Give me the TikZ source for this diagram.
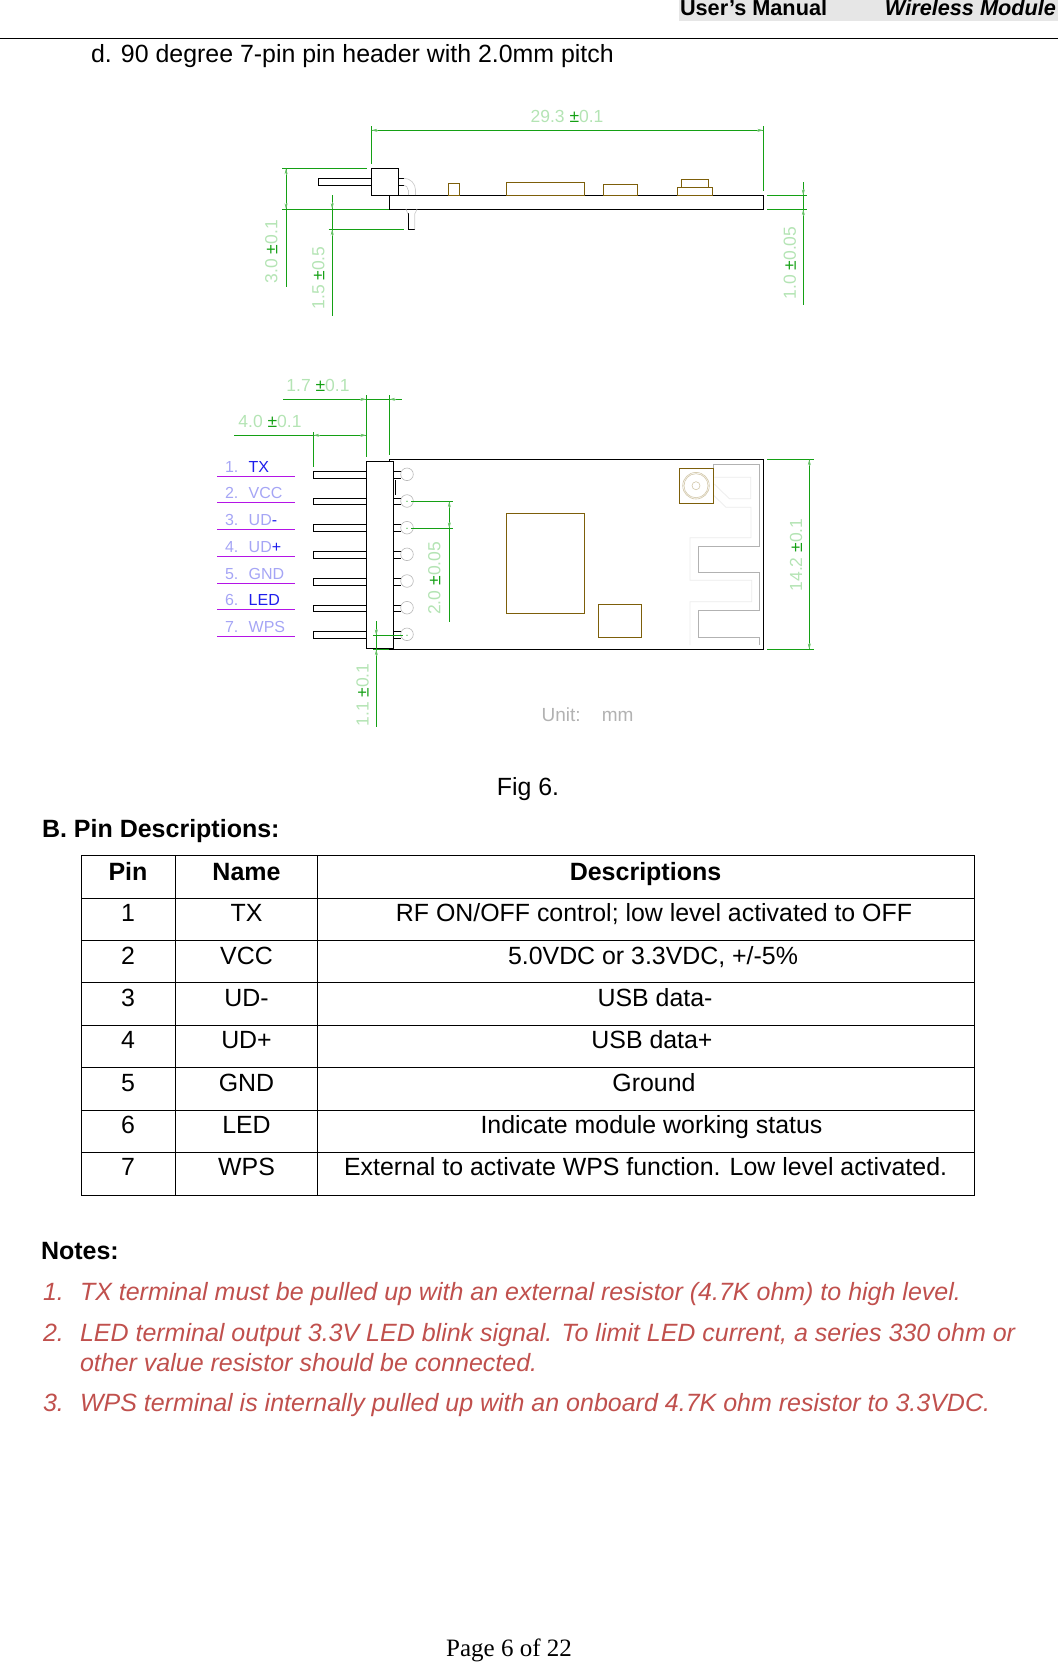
\documentclass[tikz,border=0pt]{standalone}
\usepackage{fontspec}
\usetikzlibrary{arrows.meta}
\setmainfont{Liberation Sans}
\newfontfamily\serifpage{Liberation Serif}
\definecolor{dimgreen}{RGB}{20,160,20}
\definecolor{dimtext}{RGB}{180,228,180}
\definecolor{pcbbrown}{RGB}{125,95,10}
\definecolor{lblblue}{RGB}{165,165,245}
\definecolor{lbldark}{RGB}{30,30,235}
\definecolor{lblpurple}{RGB}{180,20,230}
\definecolor{notered}{RGB}{192,80,77}
\definecolor{band}{RGB}{230,230,230}
\newcommand{\pmg}{\textcolor{dimgreen}{±}}
\newcommand{\lbd}[1]{\textcolor{lbldark}{#1}}
\tikzset{
 x=1pt,y=-1pt,
 every node/.style={inner sep=0pt,outer sep=0pt},
 outline/.style={draw=black,line width=0.9pt,fill=white},
 part/.style={draw=pcbbrown,line width=0.9pt},
 dimline/.style={draw=dimgreen,line width=0.8pt},
 tinyarrow/.style={-{Stealth[length=6pt,width=3pt]},draw=dimgreen!65,line width=.5pt},
 dimlabel/.style={text=dimtext,font=\fontsize{17.5}{18}\selectfont},
 pinlabel/.style={text=lblblue,anchor=base west,font=\fontsize{16}{16}\selectfont},
 padring/.style={draw=gray!55,line width=0.6pt},
 trace/.style={draw=gray!60,line width=0.7pt},
 tracelight/.style={draw=gray!15,line width=0.7pt},
 grid/.style={draw=black,line width=0.7pt},
 cell/.style={anchor=base,font=\fontsize{24.9}{26}\selectfont},
 head/.style={anchor=base,font=\bfseries\fontsize{25}{26}\selectfont},
 para/.style={anchor=base west,font=\fontsize{24.9}{26}\selectfont},
 note/.style={anchor=base west,text=notered,font=\itshape\fontsize{25}{26}\selectfont}
}
\begin{document}
\begin{tikzpicture}
\useasboundingbox (0,0) rectangle (1058,1662);
% header
\fill[band] (679,0) rectangle (1058,21);
\node[anchor=base west,font=\bfseries\fontsize{21.7}{24}\selectfont] (hdrA) at (680,16) {User’s Manual};
\node[anchor=base east,font=\bfseries\itshape\fontsize{21.7}{24}\selectfont] (hdrB) at (1056,16) {Wireless Module};
\draw[black,line width=0.8pt] (0,38.5) -- (1058,38.5);
\node[para] (d) at (91,63) {d. 90 degree 7-pin pin header with 2.0mm pitch};
% side view
\draw[outline] (389.4,195.3) rectangle (763.3,209.3);
\draw[outline] (318.4,178.3) rectangle (371.4,185.3);
\draw[outline] (371.4,168.3) rectangle (398.8,195.3);
\draw[black,line width=.8pt] (398.8,178.3)--(404,178.3) (398.8,185.3)--(404,185.3);
\draw[black,line width=.8pt] (408,229.3)--(414.7,229.3) (408,213)--(408,229.3);
\draw[gray!40,line width=.7pt] (404,178.3) arc (-90:0:11.5 and 11.7) (404,185.3) arc (-90:0:4 and 4.7);
\draw[gray!40,line width=.7pt] (408,195.3)--(408,190) (415.5,195.3)--(415.5,190);
\draw[gray!40,line width=.7pt] (414.7,229.3)--(414.7,214)--(417,209.3) (408,214)--(406,209.3);
\draw[part] (448.6,183.3) rectangle (459.6,195.3);
\draw[part] (506.5,182.3) rectangle (584.5,195.3);
\draw[part] (603.3,184.3) rectangle (637.6,195.3);
\draw[part] (677.6,187.3) rectangle (712.2,195.3);
\draw[part] (681.2,179.3) rectangle (708.6,187.3);
% side dimensions
\draw[dimline] (371.4,126)--(371.4,164) (763.3,126)--(763.3,190.7) (371.4,130.3)--(763.3,130.3);
\draw[dimline] (282.4,168.3)--(367.3,168.3) (282.4,209.3)--(389.4,209.3) (286.1,168.3)--(286.1,286.7);
\draw[dimline] (332.2,195)--(332.2,315.7) (328.6,229.3)--(404,229.3);
\draw[dimline] (803.3,182.3)--(803.3,304.7) (767,195.3)--(807,195.3) (767,209.3)--(807,209.3);
\draw[tinyarrow] (378,130.3)--(371.4,130.3);
\draw[tinyarrow] (757,130.3)--(763.3,130.3);
\draw[tinyarrow] (286.1,175)--(286.1,168.3);
\draw[tinyarrow] (286.1,203)--(286.1,209.3);
\draw[tinyarrow] (332.2,202)--(332.2,209);
\draw[tinyarrow] (332.2,236)--(332.2,229.3);
\draw[tinyarrow] (803.3,189)--(803.3,195.3);
\draw[tinyarrow] (803.3,216)--(803.3,209.3);
\node[dimlabel] (d293) at (567,116) {29.3 \pmg0.1};
\node[dimlabel,rotate=90] (d30) at (271.4,251.7) {3.0 \pmg0.1};
\node[dimlabel,rotate=90] (d15) at (318.4,278) {1.5 \pmg0.5};
\node[dimlabel,rotate=90] (d10) at (789.8,263) {1.0 \pmg0.05};
% top view
\draw[outline] (389.3,459.3) rectangle (763.3,649.3);
\foreach \a/\b in {471.3/478.3,498.3/504.3,524.3/531.3,551.3/558.3,578.3/585.3,605.3/611.3,631.3/638.3}{
 \draw[outline] (313.3,\a) rectangle (366.3,\b);
 \draw[black,line width=.8pt] (393.3,\a)--(401,\a) (393.3,\b)--(401,\b);
}
\draw[outline] (366.3,461.3) rectangle (393.3,648.3);
\draw[black,line width=.9pt] (395.7,480)--(395.7,495);
\foreach \c in {474.3,501,527.7,554.3,581,607.7,634.3}
 \draw[padring] (407,\c) circle (6.3);
\fill[dimgreen] (407,501.3) circle (.6) (407,528.3) circle (.6) (407,635.3) circle (.6);
\draw[part] (506,513.3) rectangle (584.3,613.3);
\draw[part] (598.3,604.3) rectangle (641.7,637.3);
\draw[trace] (713.3,468.3)--(713.3,464.3)--(759.3,464.3)--(759.3,546.3)--(698.3,546.3)--(698.3,572.3)--(759.3,572.3)--(759.3,610.3)--(698.3,610.3)--(698.3,637.3)--(759.3,637.3)--(759.3,645);
\draw[tracelight] (690,645)--(690,601.7)--(751.7,601.7)--(751.7,580.3)--(690,580.3)--(690,537.7)--(751,537.7)--(751,507.3)--(726,507.3)--(713.3,495);
\draw[tracelight] (714.3,484)--(729.3,498.7)--(750.7,498.7)--(750.7,477.3)--(714.3,477.3);
\draw[part] (679.3,468.3) rectangle (713.7,503.3);
\draw[pcbbrown!35,line width=.6pt] (696,485.7) circle (13.3) circle (12) circle (4);
% pin labels
\foreach \n/\u/\t in {a/476.3/{1. \ \lbd{TX}},b/502.3/{2. \ VCC},c/529.3/{3. \ UD\lbd{-}},e/556.3/{4. \ UD\lbd{+}},f/583.3/{5. \ GND},g/609.3/{6. \ \lbd{LED}},h/636.3/{7. \ WPS}}{
 \draw[lblpurple,line width=.8pt] (217.3,\u)--(294.7,\u);
 \node[pinlabel] (pin\n) at (225,\u-3.5) {\t};
}
% top dimensions
\draw[dimline] (283,399.3)--(402,399.3) (366.3,395)--(366.3,456.7) (389.3,395)--(389.3,455);
\draw[dimline] (234,435.3)--(366.3,435.3) (313.3,432)--(313.3,466.7);
\draw[dimline] (411.3,501.3)--(452.7,501.3) (411.3,528.3)--(452.7,528.3) (449.3,501.3)--(449.3,621.7);
\draw[dimline] (376.3,621)--(376.3,726.7) (373.3,635.3)--(402.7,635.3) (373.3,649.3)--(389.3,649.3);
\draw[dimline] (767.3,459.3)--(814,459.3) (767.3,649.3)--(814,649.3) (809.3,459.3)--(809.3,649.3);
\draw[tinyarrow] (360,399.3)--(366.3,399.3);
\draw[tinyarrow] (396,399.3)--(389.3,399.3);
\draw[tinyarrow] (320,435.3)--(313.3,435.3);
\draw[tinyarrow] (360,435.3)--(366.3,435.3);
\draw[tinyarrow] (449.3,508)--(449.3,501.3);
\draw[tinyarrow] (449.3,522)--(449.3,528.3);
\draw[tinyarrow] (376.3,629)--(376.3,635.3);
\draw[tinyarrow] (376.3,656)--(376.3,649.3);
\draw[tinyarrow] (809.3,466)--(809.3,459.3);
\draw[tinyarrow] (809.3,643)--(809.3,649.3);
\node[dimlabel] (d17) at (318,385) {1.7 \pmg0.1};
\node[dimlabel] (d40) at (270,421.7) {4.0 \pmg0.1};
\node[dimlabel,rotate=90] (d20) at (434.3,578.3) {2.0 \pmg0.05};
\node[dimlabel,rotate=90] (d11) at (362.7,695) {1.1 \pmg0.1};
\node[dimlabel,rotate=90] (d142) at (796,555) {14.2 \pmg0.1};
\node[text=gray!60,font=\fontsize{19}{19}\selectfont] (unit) at (587.5,715) {Unit:\ \ \ \ mm};
% captions
\node[anchor=base,font=\fontsize{24.9}{26}\selectfont] (fig) at (528,795) {Fig 6.};
\node[anchor=base west,font=\bfseries\fontsize{25}{26}\selectfont] (secB) at (42,837) {B. Pin Descriptions:};
% table
\draw[grid] (81.7,855.3) rectangle (974,1195);
\foreach \y in {898.3,940.3,982.3,1025.3,1067.5,1110,1152.3} \draw[grid] (81.7,\y)--(974,\y);
\foreach \x in {175.5,317.3} \draw[grid] (\x,855.3)--(\x,1195);
\node[head] (h1) at (128,880) {Pin};
\node[head] (h2) at (246.5,880) {Name};
\node[head] (h3) at (645.5,880) {Descriptions};
\foreach \i/\yy/\nn/\xx/\ds in {1/921/TX/654/{RF ON/OFF control; low level activated to OFF},
 2/964/VCC/653/{5.0VDC or 3.3VDC, +/-5\%},
 3/1006/UD-/655/{USB data-},
 4/1048/UD+/652/{USB data+},
 5/1091/GND/654/{Ground},
 6/1133/LED/651.5/{Indicate module working status},
 7/1175/WPS/645.6/{External to activate WPS function. Low level activated.}}{
 \node[cell] (p\i) at (128,\yy) {\i};
 \node[cell] (n\i) at (246.5,\yy) {\nn};
 \node[cell] (t\i) at (\xx,\yy) {\ds};
}
% notes
\node[anchor=base west,font=\bfseries\fontsize{25}{26}\selectfont] (notes) at (41,1259.5) {Notes:};
\node[note] (m1) at (43,1300) {1.};
\node[note] (l1) at (80,1300) {TX terminal must be pulled up with an external resistor (4.7K ohm) to high level.};
\node[note] (m2) at (43,1341.5) {2.};
\node[note] (l2) at (80,1341.5) {LED terminal output 3.3V LED blink signal. To limit LED current, a series 330 ohm or};
\node[note] (l2b) at (80,1371) {other value resistor should be connected.};
\node[note] (m3) at (43,1411.5) {3.};
\node[note] (l3) at (80,1411.5) {WPS terminal is internally pulled up with an onboard 4.7K ohm resistor to 3.3VDC.};
\node[anchor=base,text=black,font=\serifpage\fontsize{25}{26}\selectfont] (page) at (509,1656) {Page 6 of 22};
\end{tikzpicture}
\end{document}
